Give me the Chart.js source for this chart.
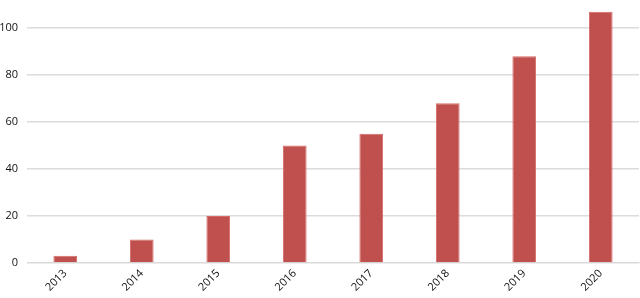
<!DOCTYPE html>
<html>
<head>
<meta charset="utf-8">
<script src="https://cdn.jsdelivr.net/npm/chart.js@4/dist/chart.umd.min.js"></script>
<style>
  html, body { margin: 0; padding: 0; background: #fff; }
  #wrap { width: 640px; height: 298px; }
</style>
</head>
<body>
<div id="wrap"><canvas id="chart"></canvas></div>
<script>
const years = ["2013", "2014", "2015", "2016", "2017", "2018", "2019", "2020"];
const counts = [3, 10, 20, 50, 55, 68, 88, 107];
const yTicks = [0, 20, 40, 60, 80, 100];

const ctx = document.getElementById("chart").getContext("2d");
new Chart(ctx, {
  type: "bar",
  data: {
    labels: years,
    datasets: [
      {
        data: counts,
        backgroundColor: "#c0504d",
        borderColor: "#d46a67",
        borderWidth: 1,
        barPercentage: 0.31,
        categoryPercentage: 1,
      },
    ],
  },
  options: {
    responsive: true,
    maintainAspectRatio: false,
    animation: false,
    layout: { padding: { top: 0, right: 1, left: 0, bottom: 0 } },
    scales: {
      x: {
        grid: { display: false, drawTicks: false },
        border: { color: "#d9d9d9", width: 1 },
        ticks: {
          minRotation: 45,
          maxRotation: 45,
          padding: 4,
          color: "#111",
          font: { family: "Open Sans", size: 11 },
        },
      },
      y: {
        min: 0,
        max: 112,
        afterBuildTicks: (axis) => {
          axis.ticks = yTicks.map((v) => ({ value: v }));
        },
        afterFit: (axis) => {
          axis.width = 27;
          axis.paddingTop = 0;
        },
        grid: { color: "#dcdcdc", lineWidth: 1.5, drawTicks: false },
        border: { display: false },
        ticks: {
          padding: 9,
          color: "#111",
          font: { family: "Open Sans", size: 11 },
        },
      },
    },
    plugins: {
      legend: { display: false },
      tooltip: { enabled: false },
    },
  },
});
</script>
</body>
</html>
